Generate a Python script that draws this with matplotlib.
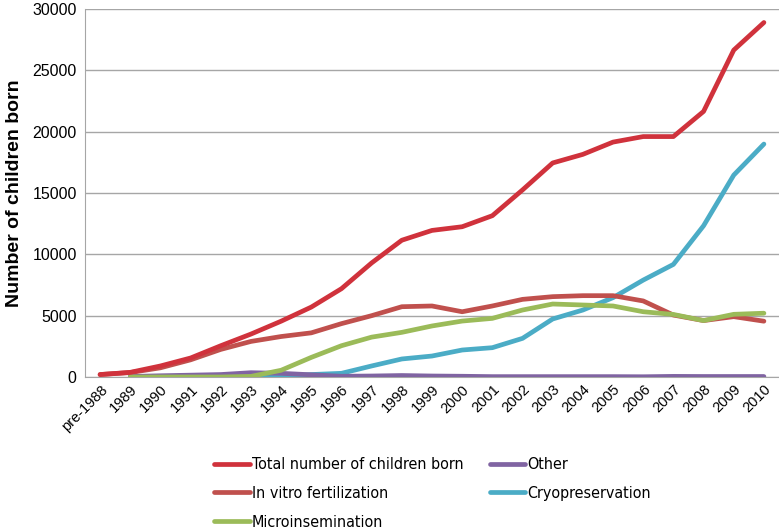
import numpy as np
import matplotlib
matplotlib.use("Agg")
import matplotlib.pyplot as plt
from matplotlib import font_manager

years = ["pre-1988", "1989", "1990", "1991", "1992", "1993", "1994", "1995",
         "1996", "1997", "1998", "1999", "2000", "2001", "2002", "2003",
         "2004", "2005", "2006", "2007", "2008", "2009", "2010"]

total = [200, 380, 900, 1550, 2550, 3500, 4550, 5700, 7200, 9300, 11150, 11950,
         12250, 13150, 15250, 17450, 18150, 19150, 19600, 19600, 21650, 26650, 28900]
ivf = [200, 360, 750, 1400, 2250, 2900, 3300, 3600, 4350, 5000, 5730, 5790,
       5320, 5790, 6330, 6550, 6630, 6630, 6200, 5050, 4600, 4920, 4550]
micro = [None, 0, 0, 0, 0, 50, 550, 1600, 2550, 3250, 3640, 4160,
         4560, 4780, 5460, 5950, 5870, 5790, 5320, 5100, 4600, 5110, 5200]
other = [None, 40, 100, 150, 200, 350, 300, 180, 60, 80, 120, 80,
         60, 30, 30, 30, 30, 30, 20, 50, 40, 40, 40]
cryo = [None, 0, 0, 0, 0, 20, 60, 200, 300, 900, 1470, 1710,
        2200, 2390, 3150, 4730, 5460, 6470, 7900, 9180, 12330, 16460, 18990]

x = np.arange(len(years))

def arr(v):
    return np.array([np.nan if a is None else a for a in v], dtype=float)

# pick a narrow face for the legend if one is around
names = {f.name for f in font_manager.fontManager.ttflist}
if "Liberation Sans Narrow" in names:
    leg_prop = {"family": "Liberation Sans Narrow", "size": 13}
else:
    leg_prop = {"family": "DejaVu Sans", "stretch": "condensed", "size": 11.5}

fig = plt.figure(figsize=(7.79, 5.32), dpi=100)
ax = fig.add_axes([85/779, 1-377/532, 1-85/779, (377-9)/532])

lw = 3.4
l_tot, = ax.plot(x, arr(total), color="#D0323C", lw=lw, solid_capstyle="round", zorder=5)
l_ivf, = ax.plot(x, arr(ivf), color="#C0504D", lw=lw, solid_capstyle="round", zorder=4)
l_cry, = ax.plot(x, arr(cryo), color="#4BACC6", lw=lw, solid_capstyle="round", zorder=3)
l_oth, = ax.plot(x, arr(other), color="#8064A2", lw=lw, solid_capstyle="round", zorder=3.5)
l_mic, = ax.plot(x, arr(micro), color="#9BBB59", lw=lw, solid_capstyle="round", zorder=4.5)

ax.set_xlim(-0.5, len(years) - 0.5)
ax.set_ylim(0, 30000)
ax.set_yticks(np.arange(0, 30001, 5000))
ax.set_xticks(x)
ax.set_xticklabels(years, rotation=45, ha="right", rotation_mode="anchor",
                   fontsize=10.5, family="Liberation Sans")
for lab in ax.get_yticklabels():
    lab.set_fontsize(11.5)
    lab.set_family("Liberation Sans")
ax.tick_params(axis="both", length=0, pad=6)
ax.tick_params(axis="x", pad=4)
ax.grid(axis="y", color="#A6A6A6", lw=1)
ax.set_axisbelow(True)
for s in ["top", "right"]:
    ax.spines[s].set_visible(False)
ax.spines["left"].set_color("#A6A6A6")
ax.spines["bottom"].set_color("#A6A6A6")
ax.set_ylabel("Number of children born", fontsize=14, fontweight="bold",
              family="Liberation Sans", labelpad=7)

handles = [l_tot, l_ivf, l_mic, l_oth, l_cry]
labels = ["Total number of children born", "In vitro fertilization",
          "Microinsemination", "Other", "Cryopreservation"]
fig.legend(handles, labels, ncol=2, loc="upper left",
           bbox_to_anchor=(208/779, 1-451/532), frameon=False,
           prop=leg_prop,
           handlelength=2.2, handletextpad=0.15, columnspacing=1.65,
           labelspacing=0.85, borderaxespad=0)

fig.savefig("out.png", dpi=100)
